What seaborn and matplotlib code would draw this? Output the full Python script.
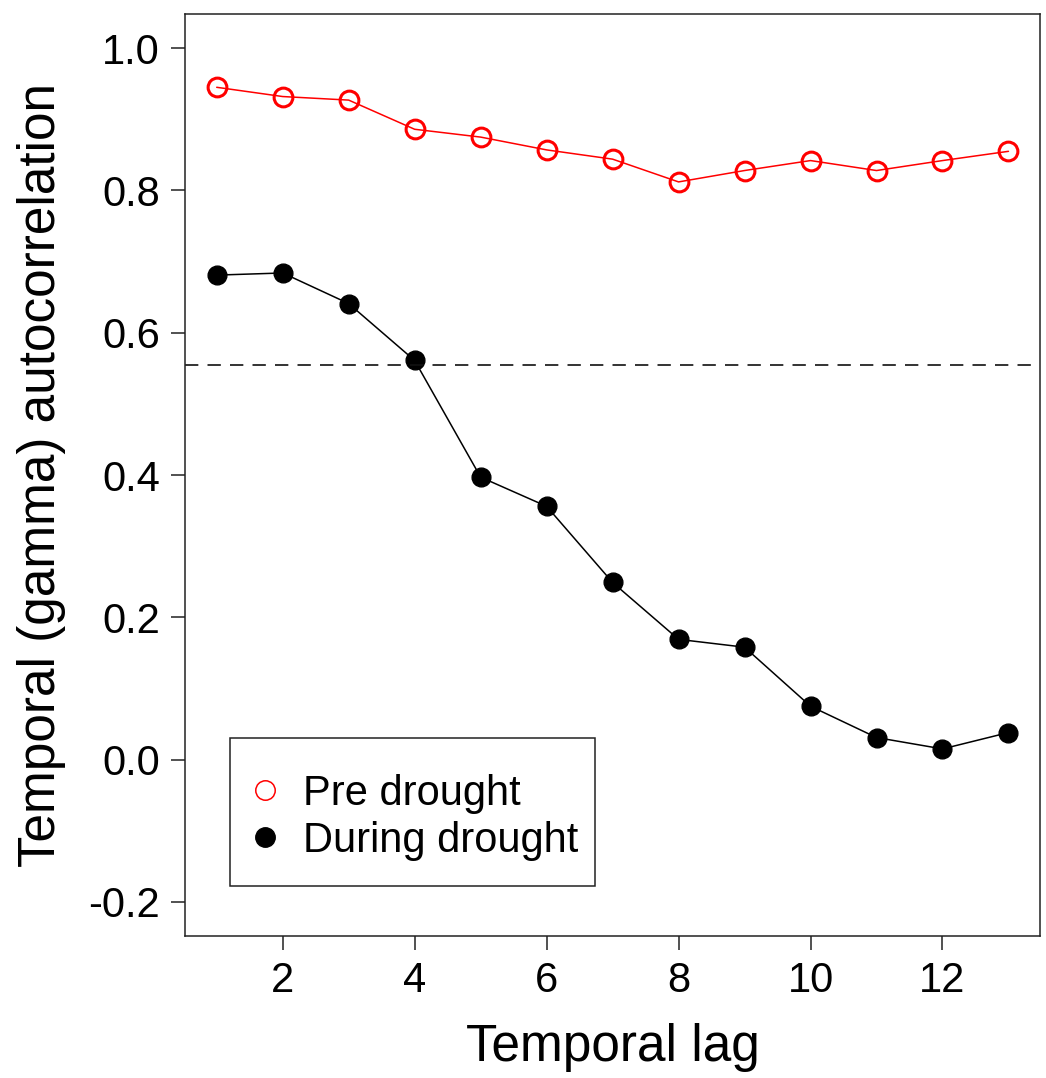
import matplotlib
matplotlib.use("Agg")
import matplotlib.pyplot as plt
import seaborn as sns
import pandas as pd
from matplotlib.lines import Line2D
from matplotlib.patches import Rectangle

lags = list(range(1, 14))
pre_drought = [0.945, 0.932, 0.927, 0.886, 0.875, 0.857, 0.844, 0.812, 0.828, 0.842, 0.828, 0.842, 0.855]
during_drought = [0.681, 0.684, 0.641, 0.561, 0.397, 0.356, 0.249, 0.169, 0.158, 0.075, 0.031, 0.015, 0.038]
threshold = 0.554
x_ticks = [2, 4, 6, 8, 10, 12]
y_ticks = [-0.2, 0.0, 0.2, 0.4, 0.6, 0.8, 1.0]

sns.set_theme(style="ticks")
plt.rcParams['font.family'] = ['Liberation Sans', 'DejaVu Sans']
plt.rcParams['text.color'] = 'black'
plt.rcParams['axes.labelcolor'] = 'black'
plt.rcParams['xtick.color'] = 'black'
plt.rcParams['ytick.color'] = 'black'

fig = plt.figure(figsize=(10.46, 10.78), dpi=100)
ax = fig.add_axes([0.1769, 0.1317, 0.8175, 0.8553])

df_pre = pd.DataFrame({"lag": lags, "val": pre_drought})
df_dur = pd.DataFrame({"lag": lags, "val": during_drought})

sns.lineplot(data=df_pre, x="lag", y="val", ax=ax, color="red", lw=1.1,
             marker="o", markersize=13.5, markerfacecolor="none",
             markeredgecolor="red", markeredgewidth=2.2)
sns.lineplot(data=df_dur, x="lag", y="val", ax=ax, color="black", lw=1.1,
             marker="o", markersize=13.5, markerfacecolor="black",
             markeredgecolor="black", markeredgewidth=1)

ax.axhline(threshold, color="#111111", lw=1.2, dashes=(8, 5.5))

ax.set_xlim(0.52, 13.48)
ax.set_ylim(-0.248, 1.048)
ax.set_xticks(x_ticks)
ax.set_yticks(y_ticks)
ax.set_yticklabels([f"{v:.1f}" for v in y_ticks])
ax.tick_params(axis="both", direction="out", length=10, width=1.1,
               labelsize=30, color="#222222", labelcolor="black", pad=8)
for s in ax.spines.values():
    s.set_linewidth(1.1)
    s.set_color("#222222")

ax.set_xlabel("Temporal lag", fontsize=37, labelpad=16, color="black")
ax.set_ylabel("Temporal (gamma) autocorrelation", fontsize=37, labelpad=16, color="black")

# legend box
x0, x1 = 0.0526, 0.4795
y0, y1 = 0.0542, 0.2148
ax.add_patch(Rectangle((x0, y0), x1 - x0, y1 - y0, transform=ax.transAxes,
                       fill=False, edgecolor="#222222", lw=1.1, zorder=5))

handles = [
    Line2D([], [], ls="none", marker="o", markersize=14, markerfacecolor="none",
           markeredgecolor="red", markeredgewidth=1.1, label="Pre drought"),
    Line2D([], [], ls="none", marker="o", markersize=14, markerfacecolor="black",
           markeredgecolor="black", label="During drought"),
]
leg = ax.legend(handles=handles, loc="center left",
                bbox_to_anchor=(x0, (y0 + y1) / 2 - 0.0055),
                fontsize=30, frameon=False, borderpad=0.4, handlelength=0.9,
                handletextpad=0.45, labelspacing=0.17, borderaxespad=0)
for t in leg.get_texts():
    t.set_color("black")

fig.savefig("out.png", dpi=100)
